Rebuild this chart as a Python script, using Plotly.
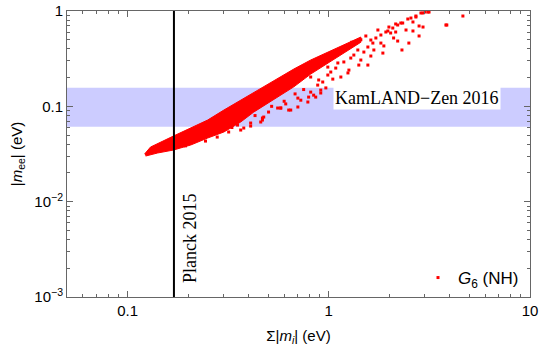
import plotly.graph_objects as go
import math

# ---------------- data ----------------
# dense core of the |m_ee| vs Sum|m_i| scatter region: upper and lower edges
CORE_UPPER_X = [0.1215, 0.130, 0.169, 0.206, 0.250, 0.301, 0.365, 0.444, 0.502, 0.557, 0.670, 0.813, 0.989, 1.188, 1.443]
CORE_UPPER_Y = [0.0316, 0.0374, 0.0488, 0.0592, 0.0718, 0.0914, 0.116, 0.145, 0.171, 0.193, 0.246, 0.306, 0.371, 0.440, 0.533]
CORE_LOWER_X = [0.123, 0.141, 0.169, 0.206, 0.250, 0.301, 0.365, 0.424, 0.502, 0.557, 0.670, 0.813, 0.989, 1.188, 1.443]
CORE_LOWER_Y = [0.0301, 0.0324, 0.0348, 0.0393, 0.0465, 0.0538, 0.0685, 0.0871, 0.111, 0.125, 0.160, 0.218, 0.285, 0.360, 0.470]

# individual scattered points outside the dense core
SCATTER_X = [3.01, 3.11, 2.94, 4.64, 3.86, 2.94, 2.81, 2.50, 2.31, 1.857, 1.618, 1.564, 1.410, 1.259,
             1.148, 1.047, 0.967, 0.912, 0.841, 0.794, 0.702, 0.577, 0.647, 2.71, 2.62, 2.47, 2.33,
             2.20, 2.15, 2.03, 1.921, 1.815, 1.714, 1.618, 1.656, 1.564, 1.494, 1.394, 1.332, 1.286,
             1.188, 1.109, 1.083, 1.023, 0.989, 0.933, 0.881, 1.878, 1.966, 2.08, 2.10, 2.28, 2.20,
             2.42, 2.56, 2.62, 2.81, 2.87, 3.15, 3.82, 2.71, 1.528, 1.754, 1.99, 2.15, 1.443, 1.30,
             0.279, 0.365, 0.468, 0.318, 0.409, 0.244, 0.194, 0.502, 0.557, 0.611, 0.726, 0.813,
             0.577, 0.632, 0.702, 0.787, 0.861, 0.912, 0.475, 0.459, 0.409, 0.352, 0.378, 0.468,
             0.813, 0.891, 0.989, 1.245, 1.443, 1.675, 1.815, 0.52, 0.60, 0.68, 0.75, 0.43, 0.33]
SCATTER_Y = [0.976, 0.976, 0.953, 0.886, 0.713, 0.679, 0.547, 0.461, 0.390, 0.362, 0.337, 0.271, 0.271, 0.240,
             0.203, 0.193, 0.156, 0.148, 0.131, 0.125, 0.122, 0.0960, 0.0914, 0.886, 0.767, 0.824, 0.748,
             0.713, 0.602, 0.588, 0.602, 0.560, 0.521, 0.496, 0.461, 0.419, 0.371, 0.390, 0.345, 0.321,
             0.292, 0.285, 0.252, 0.229, 0.213, 0.180, 0.167, 0.430, 0.617, 0.663, 0.521, 0.748, 0.484,
             0.632, 0.844, 0.617, 0.696, 0.953, 0.976, 0.713, 0.865, 0.547, 0.632, 0.679, 0.731, 0.500, 0.470,
             0.0476, 0.0564, 0.0754, 0.0538, 0.0621, 0.0432, 0.0385, 0.0871, 0.0960, 0.106, 0.116, 0.141,
             0.0960, 0.0914, 0.0984, 0.111, 0.125, 0.138, 0.0772, 0.0685, 0.0668, 0.0636, 0.0592, 0.0718,
             0.203, 0.189, 0.258, 0.224, 0.306, 0.390, 0.461, 0.100, 0.113, 0.135, 0.150, 0.080, 0.060]

KAMLAND_LOW = 0.061
KAMLAND_HIGH = 0.157
PLANCK_SUM = 0.17

X_TICKS = [0.1, 1, 10]
X_TICK_TEXT = ["0.1", "1", "10"]
Y_TICKS = [0.001, 0.01, 0.1, 1]
Y_TICK_TEXT = ["10<sup>\u22123</sup>", "10<sup>\u22122</sup>", "0.1", "1"]

SERIES_NAME = "<i>G</i><sub>6</sub> (NH)"

# ---------------- figure ----------------
RED = "#ff0000"
SANS = "Liberation Sans, Arial, sans-serif"
SERIF = "Liberation Serif, Times New Roman, serif"

fig = go.Figure()

core_x = CORE_UPPER_X + CORE_LOWER_X[::-1]
core_y = CORE_UPPER_Y + CORE_LOWER_Y[::-1]
fig.add_trace(go.Scatter(x=core_x, y=core_y, mode="lines", fill="toself",
                         fillcolor=RED, line=dict(color=RED, width=1),
                         showlegend=False, hoverinfo="skip"))
fig.add_trace(go.Scatter(x=SCATTER_X, y=SCATTER_Y, mode="markers", name=SERIES_NAME,
                         marker=dict(symbol="square", size=3, color=RED, line=dict(width=0)),
                         cliponaxis=True))

minor_vals = [m * 10 ** e for e in range(-4, 2) for m in range(2, 10)]

axis_common = dict(type="log", showline=True, linecolor="#666666", linewidth=1,
                   mirror="allticks", ticks="inside", ticklen=6, tickcolor="#666666",
                   showgrid=False, zeroline=False, tickmode="array", automargin=False,
                   tickfont=dict(family=SANS, size=15, color="#000000"),
                   minor=dict(ticks="inside", ticklen=3, tickcolor="#666666",
                              tickmode="array", tickvals=minor_vals, showgrid=False))

fig.update_xaxes(**axis_common, range=[math.log10(0.05), 1], tickvals=X_TICKS, ticktext=X_TICK_TEXT,
                 title=dict(text="\u03a3|<i>m</i><sub><i>i</i></sub>| (eV)",
                            font=dict(family=SANS, size=15, color="#000000"), standoff=12))
fig.update_yaxes(**axis_common, range=[-3, 0], tickvals=Y_TICKS, ticktext=Y_TICK_TEXT,
                 title=dict(text="|<i>m</i><sub>ee</sub>| (eV)",
                            font=dict(family=SANS, size=15, color="#000000"), standoff=8))

fig.add_shape(type="rect", xref="paper", x0=0, x1=1, yref="y", y0=KAMLAND_LOW, y1=KAMLAND_HIGH,
              fillcolor="#ccccff", line=dict(width=0), layer="below")
fig.add_shape(type="line", xref="x", x0=PLANCK_SUM, x1=PLANCK_SUM, yref="paper", y0=0, y1=1,
              line=dict(color="#000000", width=2), layer="above")

fig.add_annotation(text="KamLAND\u2212Zen 2016", xref="paper", yref="paper",
                   x=(417 - 67) / 463, y=(297 - 98) / 286, xanchor="center", yanchor="middle",
                   showarrow=False, bgcolor="#ffffff", borderpad=1,
                   font=dict(family=SERIF, size=18, color="#000000"))
fig.add_annotation(text="Planck 2015", xref="paper", yref="paper", textangle=-90,
                   x=(189.5 - 67) / 463, y=(297 - 238.5) / 286, xanchor="center", yanchor="middle",
                   showarrow=False, font=dict(family=SERIF, size=18, color="#000000"))

fig.update_layout(width=540, height=349, margin=dict(l=67, r=10, t=11, b=52),
                  paper_bgcolor="#ffffff", plot_bgcolor="#ffffff",
                  showlegend=True, hovermode=False,
                  legend=dict(x=(418 - 67) / 463, y=(297 - 278) / 286, xanchor="left", yanchor="middle",
                              bgcolor="rgba(0,0,0,0)", borderwidth=0,
                              font=dict(family=SANS, size=17, color="#000000")))

fig.write_html("out.html", config={"displayModeBar": False, "staticPlot": True},
               post_script="document.body.style.margin='0';document.body.style.padding='0';")
